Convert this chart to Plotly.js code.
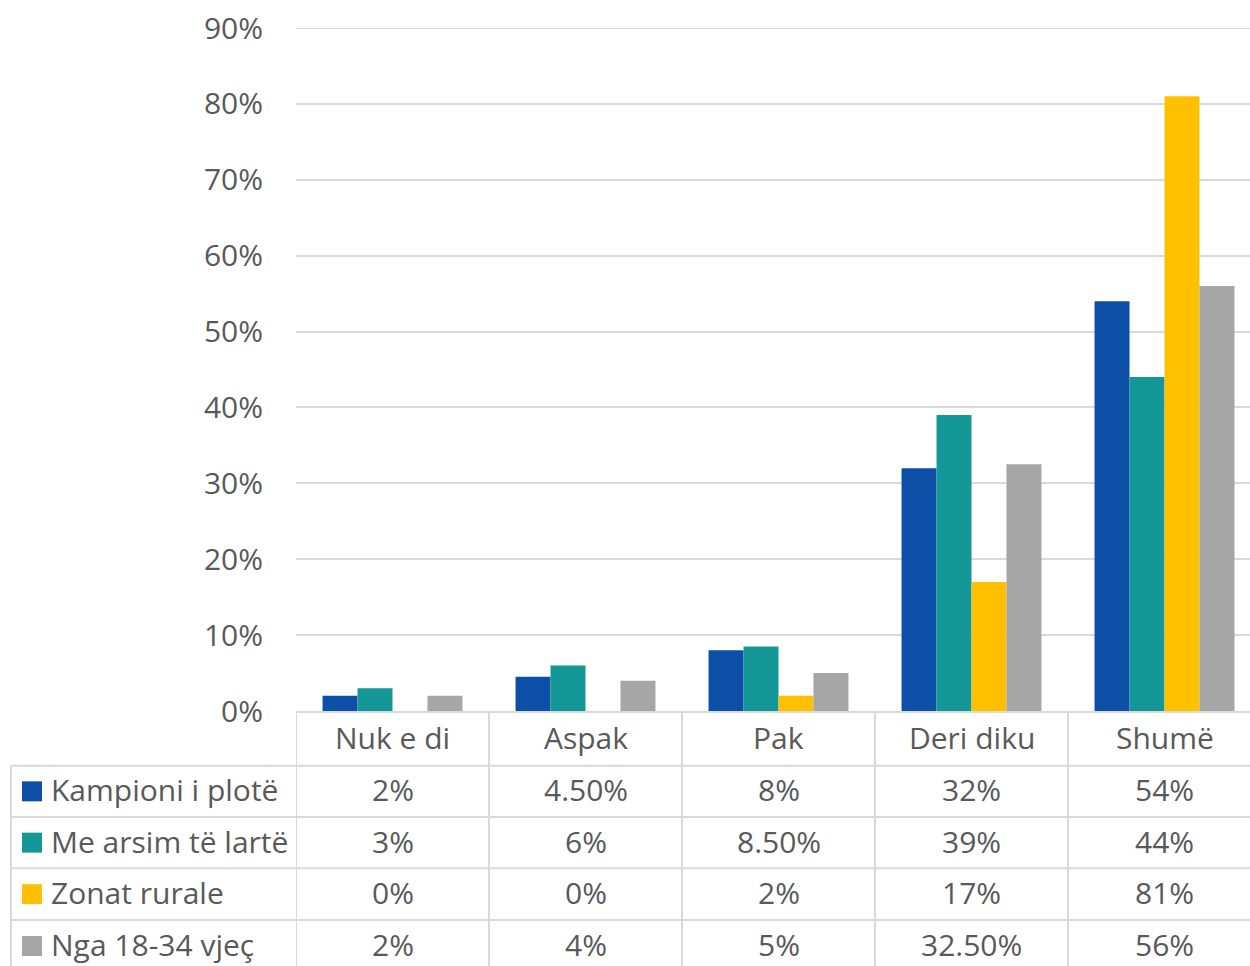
<!DOCTYPE html>
<html><head><meta charset="utf-8">
<script src="https://cdn.plot.ly/plotly-3.0.1.min.js"></script>
<style>html,body{margin:0;padding:0;overflow:hidden;background:#fff;}#chart{width:1262px;height:966px;}</style>
</head><body><div id="chart"></div>
<script>
const categories = ["Nuk e di", "Aspak", "Pak", "Deri diku", "Shumë"];
const seriesNames = ["Kampioni i plotë", "Me arsim të lartë", "Zonat rurale", "Nga 18-34 vjeç"];
const kampioni = [2, 4.5, 8, 32, 54];
const arsim = [3, 6, 8.5, 39, 44];
const rurale = [0, 0, 2, 17, 81];
const moshe = [2, 4, 5, 32.5, 56];
const tableLabels = [
  ["2%", "4.50%", "8%", "32%", "54%"],
  ["3%", "6%", "8.50%", "39%", "44%"],
  ["0%", "0%", "2%", "17%", "81%"],
  ["2%", "4%", "5%", "32.50%", "56%"]
];
const colors = ["#0d4ea6", "#139797", "#ffc000", "#a6a6a6"];
const seriesValues = [kampioni, arsim, rurale, moshe];

const FONT = "Open Sans, Noto Sans, sans-serif";
const TXT = "#595959";
const FS = 30;
const LINE = "#d9d9d9";

// geometry in pixels
const W = 1262, H = 966, L = 296, T = 28, B0 = 711;
const plotH = B0 - T, plotW = W - 1 - L;
const YMAX = 0.9;
const py = p => (B0 - p) / plotH;   // pixel y -> paper y
const px = p => (p - L) / plotW;    // pixel x -> paper x

const traces = seriesValues.map((vals, i) => ({
  type: "bar", x: categories.map((c, k) => k), y: vals.map(v => v / 100),
  name: seriesNames[i], marker: {color: colors[i], line: {width: 0}},
  hoverinfo: "skip"
}));

const rowEdges = [765.7, 817, 868.3, 920, 972];
const shapes = [];
const annotations = [];
rowEdges.slice(0, 4).forEach(y => shapes.push({type: "line", xref: "paper", yref: "paper",
  x0: px(11), x1: 1, y0: py(y), y1: py(y), line: {color: LINE, width: 2}}));
shapes.push({type: "line", xref: "paper", yref: "paper", x0: px(11), x1: px(11),
  y0: py(765.7), y1: py(972), line: {color: LINE, width: 2}});
for (let k = 0; k <= categories.length; k++) {
  shapes.push({type: "line", xref: "x", yref: "paper", x0: k - 0.5, x1: k - 0.5,
    y0: 0, y1: py(972), line: {color: LINE, width: 2}});
}
shapes.push({type: "line", xref: "paper", yref: "y", x0: 0, x1: 1, y0: YMAX, y1: YMAX,
  line: {color: LINE, width: 2}, layer: "below"});
categories.forEach((c, k) => annotations.push({xref: "x", yref: "paper", x: k, y: py(737),
  text: c, showarrow: false, font: {family: FONT, size: FS, color: TXT}, xanchor: "center", yanchor: "middle"}));
seriesNames.forEach((n, i) => {
  const yc = (rowEdges[i] + rowEdges[i + 1]) / 2;
  shapes.push({type: "rect", xref: "paper", yref: "paper", x0: px(22), x1: px(42),
    y0: py(yc - 10), y1: py(yc + 10), fillcolor: colors[i], line: {width: 0}});
  annotations.push({xref: "paper", yref: "paper", x: px(49), y: py(yc - 1.5), text: n, showarrow: false,
    xanchor: "left", yanchor: "middle", font: {family: FONT, size: FS, color: TXT}});
  tableLabels[i].forEach((t, k) => annotations.push({xref: "x", yref: "paper", x: k, y: py(yc - 1.5),
    text: t, showarrow: false, xanchor: "center", yanchor: "middle", font: {family: FONT, size: FS, color: TXT}}));
});

const layout = {
  width: W, height: H,
  margin: {l: L, r: 1, t: T, b: H - B0, pad: 0},
  barmode: "group", bargap: 0.275, bargroupgap: 0,
  showlegend: false,
  paper_bgcolor: "#fff", plot_bgcolor: "#fff",
  font: {family: FONT, size: FS, color: TXT},
  xaxis: {range: [-0.5, 4.5], showticklabels: false, showgrid: false, zeroline: false,
    showline: true, linecolor: LINE, linewidth: 2, ticks: "", fixedrange: true},
  yaxis: {range: [0, YMAX], dtick: 0.1, tick0: 0, tickformat: ".0%", showgrid: true,
    gridcolor: LINE, gridwidth: 2, zeroline: false, showline: false, ticks: "",
    ticklabelstandoff: 32, tickfont: {family: FONT, size: FS, color: TXT}, fixedrange: true},
  shapes: shapes, annotations: annotations
};
Plotly.newPlot("chart", traces, layout, {displayModeBar: false, staticPlot: true});
</script></body></html>
